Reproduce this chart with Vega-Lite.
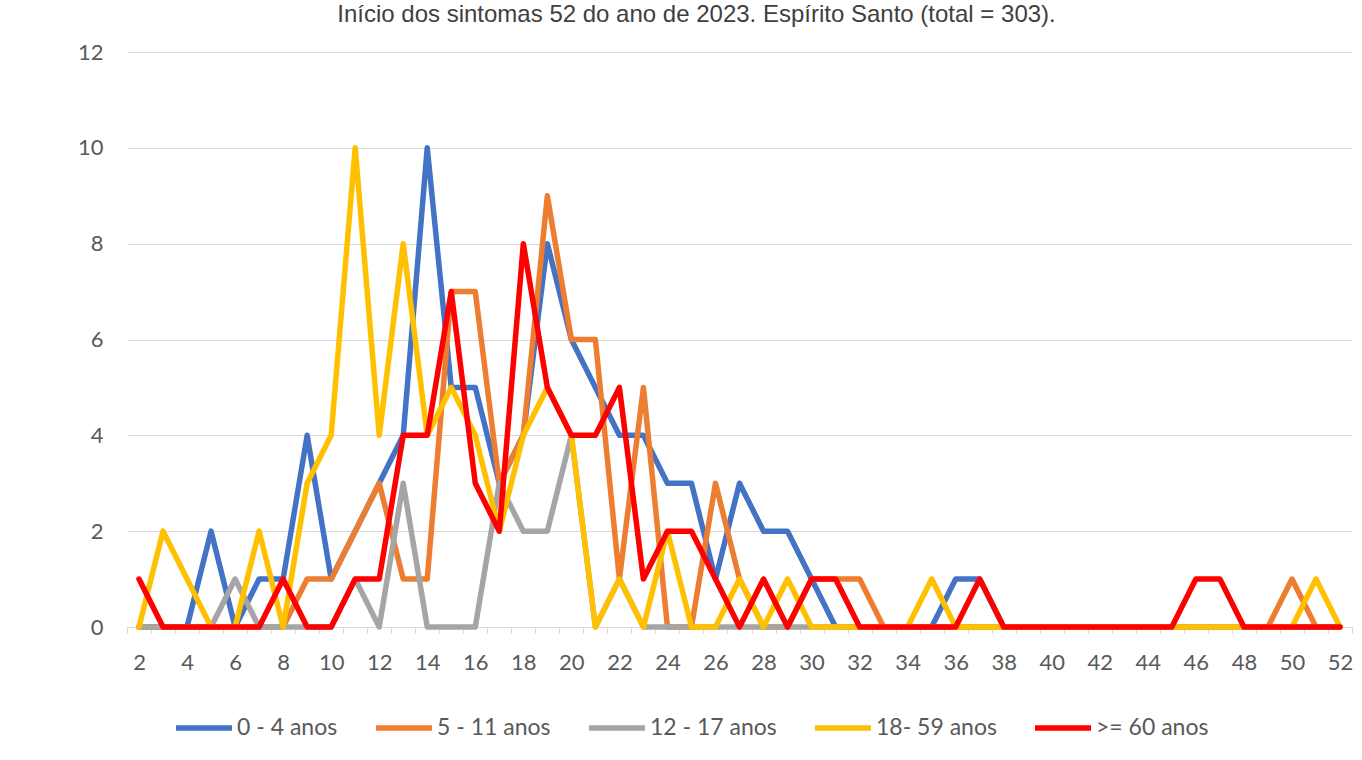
{
  "$schema": "https://vega.github.io/schema/vega-lite/v6.json",
  "width": 1225,
  "height": 575,
  "autosize": {"type": "none"},
  "padding": {"left": 127, "top": 52, "right": 10, "bottom": 133},
  "background": "white",
  "title": {
    "text": "Início dos sintomas 52 do ano de 2023. Espírito Santo (total = 303).",
    "font": "Liberation Sans",
    "fontSize": 24,
    "fontWeight": "normal",
    "color": "#404040",
    "anchor": "middle",
    "baseline": "alphabetic",
    "offset": -5,
    "dx": -43
  },
  "config": {"view": {"stroke": null}, "font": "Lato"},
  "data": {
    "values": [
      {"semana": 2, "0 - 4 anos": 0, "5 - 11 anos": 0, "12 - 17 anos": 0, "18- 59 anos": 0, ">= 60 anos": 1},
      {"semana": 3, "0 - 4 anos": 0, "5 - 11 anos": 0, "12 - 17 anos": 0, "18- 59 anos": 2, ">= 60 anos": 0},
      {"semana": 4, "0 - 4 anos": 0, "5 - 11 anos": 0, "12 - 17 anos": 0, "18- 59 anos": 1, ">= 60 anos": 0},
      {"semana": 5, "0 - 4 anos": 2, "5 - 11 anos": 0, "12 - 17 anos": 0, "18- 59 anos": 0, ">= 60 anos": 0},
      {"semana": 6, "0 - 4 anos": 0, "5 - 11 anos": 0, "12 - 17 anos": 1, "18- 59 anos": 0, ">= 60 anos": 0},
      {"semana": 7, "0 - 4 anos": 1, "5 - 11 anos": 0, "12 - 17 anos": 0, "18- 59 anos": 2, ">= 60 anos": 0},
      {"semana": 8, "0 - 4 anos": 1, "5 - 11 anos": 0, "12 - 17 anos": 0, "18- 59 anos": 0, ">= 60 anos": 1},
      {"semana": 9, "0 - 4 anos": 4, "5 - 11 anos": 1, "12 - 17 anos": 0, "18- 59 anos": 3, ">= 60 anos": 0},
      {"semana": 10, "0 - 4 anos": 1, "5 - 11 anos": 1, "12 - 17 anos": 0, "18- 59 anos": 4, ">= 60 anos": 0},
      {"semana": 11, "0 - 4 anos": 2, "5 - 11 anos": 2, "12 - 17 anos": 1, "18- 59 anos": 10, ">= 60 anos": 1},
      {"semana": 12, "0 - 4 anos": 3, "5 - 11 anos": 3, "12 - 17 anos": 0, "18- 59 anos": 4, ">= 60 anos": 1},
      {"semana": 13, "0 - 4 anos": 4, "5 - 11 anos": 1, "12 - 17 anos": 3, "18- 59 anos": 8, ">= 60 anos": 4},
      {"semana": 14, "0 - 4 anos": 10, "5 - 11 anos": 1, "12 - 17 anos": 0, "18- 59 anos": 4, ">= 60 anos": 4},
      {"semana": 15, "0 - 4 anos": 5, "5 - 11 anos": 7, "12 - 17 anos": 0, "18- 59 anos": 5, ">= 60 anos": 7},
      {"semana": 16, "0 - 4 anos": 5, "5 - 11 anos": 7, "12 - 17 anos": 0, "18- 59 anos": 4, ">= 60 anos": 3},
      {"semana": 17, "0 - 4 anos": 3, "5 - 11 anos": 3, "12 - 17 anos": 3, "18- 59 anos": 2, ">= 60 anos": 2},
      {"semana": 18, "0 - 4 anos": 4, "5 - 11 anos": 4, "12 - 17 anos": 2, "18- 59 anos": 4, ">= 60 anos": 8},
      {"semana": 19, "0 - 4 anos": 8, "5 - 11 anos": 9, "12 - 17 anos": 2, "18- 59 anos": 5, ">= 60 anos": 5},
      {"semana": 20, "0 - 4 anos": 6, "5 - 11 anos": 6, "12 - 17 anos": 4, "18- 59 anos": 4, ">= 60 anos": 4},
      {"semana": 21, "0 - 4 anos": 5, "5 - 11 anos": 6, "12 - 17 anos": 0, "18- 59 anos": 0, ">= 60 anos": 4},
      {"semana": 22, "0 - 4 anos": 4, "5 - 11 anos": 1, "12 - 17 anos": 1, "18- 59 anos": 1, ">= 60 anos": 5},
      {"semana": 23, "0 - 4 anos": 4, "5 - 11 anos": 5, "12 - 17 anos": 0, "18- 59 anos": 0, ">= 60 anos": 1},
      {"semana": 24, "0 - 4 anos": 3, "5 - 11 anos": 0, "12 - 17 anos": 0, "18- 59 anos": 2, ">= 60 anos": 2},
      {"semana": 25, "0 - 4 anos": 3, "5 - 11 anos": 0, "12 - 17 anos": 0, "18- 59 anos": 0, ">= 60 anos": 2},
      {"semana": 26, "0 - 4 anos": 1, "5 - 11 anos": 3, "12 - 17 anos": 0, "18- 59 anos": 0, ">= 60 anos": 1},
      {"semana": 27, "0 - 4 anos": 3, "5 - 11 anos": 1, "12 - 17 anos": 0, "18- 59 anos": 1, ">= 60 anos": 0},
      {"semana": 28, "0 - 4 anos": 2, "5 - 11 anos": 0, "12 - 17 anos": 0, "18- 59 anos": 0, ">= 60 anos": 1},
      {"semana": 29, "0 - 4 anos": 2, "5 - 11 anos": 0, "12 - 17 anos": 0, "18- 59 anos": 1, ">= 60 anos": 0},
      {"semana": 30, "0 - 4 anos": 1, "5 - 11 anos": 1, "12 - 17 anos": 0, "18- 59 anos": 0, ">= 60 anos": 1},
      {"semana": 31, "0 - 4 anos": 0, "5 - 11 anos": 1, "12 - 17 anos": 0, "18- 59 anos": 0, ">= 60 anos": 1},
      {"semana": 32, "0 - 4 anos": 0, "5 - 11 anos": 1, "12 - 17 anos": 0, "18- 59 anos": 0, ">= 60 anos": 0},
      {"semana": 33, "0 - 4 anos": 0, "5 - 11 anos": 0, "12 - 17 anos": 0, "18- 59 anos": 0, ">= 60 anos": 0},
      {"semana": 34, "0 - 4 anos": 0, "5 - 11 anos": 0, "12 - 17 anos": 0, "18- 59 anos": 0, ">= 60 anos": 0},
      {"semana": 35, "0 - 4 anos": 0, "5 - 11 anos": 0, "12 - 17 anos": 0, "18- 59 anos": 1, ">= 60 anos": 0},
      {"semana": 36, "0 - 4 anos": 1, "5 - 11 anos": 0, "12 - 17 anos": 0, "18- 59 anos": 0, ">= 60 anos": 0},
      {"semana": 37, "0 - 4 anos": 1, "5 - 11 anos": 0, "12 - 17 anos": 0, "18- 59 anos": 0, ">= 60 anos": 1},
      {"semana": 38, "0 - 4 anos": 0, "5 - 11 anos": 0, "12 - 17 anos": 0, "18- 59 anos": 0, ">= 60 anos": 0},
      {"semana": 39, "0 - 4 anos": 0, "5 - 11 anos": 0, "12 - 17 anos": 0, "18- 59 anos": 0, ">= 60 anos": 0},
      {"semana": 40, "0 - 4 anos": 0, "5 - 11 anos": 0, "12 - 17 anos": 0, "18- 59 anos": 0, ">= 60 anos": 0},
      {"semana": 41, "0 - 4 anos": 0, "5 - 11 anos": 0, "12 - 17 anos": 0, "18- 59 anos": 0, ">= 60 anos": 0},
      {"semana": 42, "0 - 4 anos": 0, "5 - 11 anos": 0, "12 - 17 anos": 0, "18- 59 anos": 0, ">= 60 anos": 0},
      {"semana": 43, "0 - 4 anos": 0, "5 - 11 anos": 0, "12 - 17 anos": 0, "18- 59 anos": 0, ">= 60 anos": 0},
      {"semana": 44, "0 - 4 anos": 0, "5 - 11 anos": 0, "12 - 17 anos": 0, "18- 59 anos": 0, ">= 60 anos": 0},
      {"semana": 45, "0 - 4 anos": 0, "5 - 11 anos": 0, "12 - 17 anos": 0, "18- 59 anos": 0, ">= 60 anos": 0},
      {"semana": 46, "0 - 4 anos": 0, "5 - 11 anos": 0, "12 - 17 anos": 0, "18- 59 anos": 0, ">= 60 anos": 1},
      {"semana": 47, "0 - 4 anos": 0, "5 - 11 anos": 0, "12 - 17 anos": 0, "18- 59 anos": 0, ">= 60 anos": 1},
      {"semana": 48, "0 - 4 anos": 0, "5 - 11 anos": 0, "12 - 17 anos": 0, "18- 59 anos": 0, ">= 60 anos": 0},
      {"semana": 49, "0 - 4 anos": 0, "5 - 11 anos": 0, "12 - 17 anos": 0, "18- 59 anos": 0, ">= 60 anos": 0},
      {"semana": 50, "0 - 4 anos": 0, "5 - 11 anos": 1, "12 - 17 anos": 0, "18- 59 anos": 0, ">= 60 anos": 0},
      {"semana": 51, "0 - 4 anos": 0, "5 - 11 anos": 0, "12 - 17 anos": 0, "18- 59 anos": 1, ">= 60 anos": 0},
      {"semana": 52, "0 - 4 anos": 0, "5 - 11 anos": 0, "12 - 17 anos": 0, "18- 59 anos": 0, ">= 60 anos": 0}
    ]
  },
  "transform": [
    {"fold": ["0 - 4 anos", "5 - 11 anos", "12 - 17 anos", "18- 59 anos", ">= 60 anos"], "as": ["faixa", "casos"]}
  ],
  "mark": {"type": "line", "strokeWidth": 5.5, "strokeJoin": "round", "strokeCap": "round"},
  "encoding": {
    "x": {
      "field": "semana",
      "type": "quantitative",
      "scale": {"domain": [1.5, 52.5], "nice": false, "zero": false},
      "axis": {
        "title": null,
        "grid": false,
        "values": [1.5,2,2.5,3,3.5,4,4.5,5,5.5,6,6.5,7,7.5,8,8.5,9,9.5,10,10.5,11,11.5,12,12.5,13,13.5,14,14.5,15,15.5,16,16.5,17,17.5,18,18.5,19,19.5,20,20.5,21,21.5,22,22.5,23,23.5,24,24.5,25,25.5,26,26.5,27,27.5,28,28.5,29,29.5,30,30.5,31,31.5,32,32.5,33,33.5,34,34.5,35,35.5,36,36.5,37,37.5,38,38.5,39,39.5,40,40.5,41,41.5,42,42.5,43,43.5,44,44.5,45,45.5,46,46.5,47,47.5,48,48.5,49,49.5,50,50.5,51,51.5,52,52.5],
        "labelExpr": "datum.value % 2 == 0 ? '' + datum.value : ''",
        "labelOverlap": false,
        "labelFlush": false,
        "labelFont": "Lato",
        "labelFontSize": 22,
        "labelColor": "#595959",
        "labelPadding": 19,
        "domainColor": "#d9d9d9",
        "domainWidth": 1,
        "tickColor": "#d9d9d9",
        "tickSize": 6,
        "tickOpacity": {"condition": {"test": "datum.value % 1 != 0", "value": 1}, "value": 0}
      }
    },
    "y": {
      "field": "casos",
      "type": "quantitative",
      "scale": {"domain": [0, 12], "nice": false},
      "axis": {
        "title": null,
        "values": [0, 2, 4, 6, 8, 10, 12],
        "domain": false,
        "ticks": false,
        "gridColor": "#d9d9d9",
        "gridWidth": 1,
        "labelFont": "Lato",
        "labelFontSize": 22,
        "labelColor": "#595959",
        "labelPadding": 24
      }
    },
    "color": {
      "field": "faixa",
      "type": "nominal",
      "scale": {
        "domain": ["0 - 4 anos", "5 - 11 anos", "12 - 17 anos", "18- 59 anos", ">= 60 anos"],
        "range": ["#4472C4", "#ED7D31", "#A5A5A5", "#FFC000", "#FF0000"]
      },
      "legend": {
        "title": null,
        "orient": "none",
        "legendX": 46,
        "legendY": 645,
        "direction": "horizontal",
        "symbolType": "stroke",
        "symbolSize": 3136,
        "symbolStrokeWidth": 5.5,
        "labelFont": "Lato",
        "labelFontSize": 23,
        "labelColor": "#595959",
        "labelOffset": 2,
        "labelLimit": 300,
        "columnPadding": 27
      }
    }
  }
}
